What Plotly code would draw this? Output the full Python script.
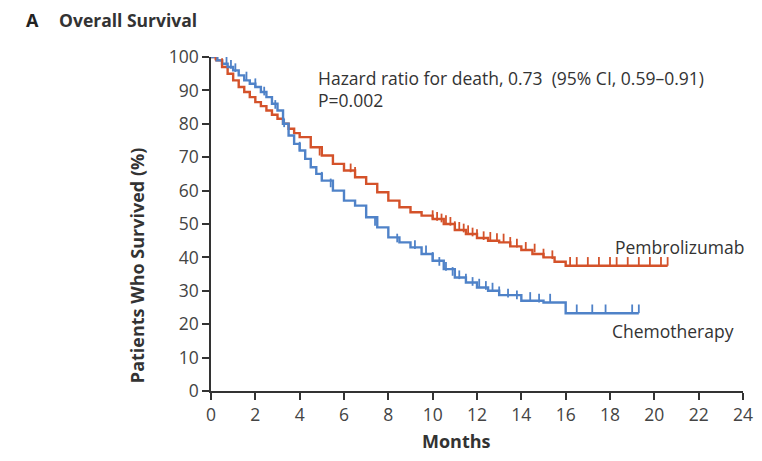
import plotly.graph_objects as go

# Kaplan-Meier step data (months, % surviving)
pem_t = [0, 0.25, 0.5, 0.75, 1.0, 1.25, 1.5, 1.75, 2.0, 2.25, 2.5, 2.75, 3.0, 3.25, 3.5, 3.75, 4.0, 4.5, 5.0,
         5.5, 6.0, 6.5, 7.0, 7.5, 8.0, 8.5, 9.0, 9.5, 10.0, 10.5, 11.0, 11.5, 12.0, 12.5, 13.0, 13.5, 14.0,
         14.5, 15.0, 15.5, 16.0, 20.6]
pem_s = [100, 99, 97, 95, 93, 91, 89.5, 88, 86.5, 85.3, 84, 82.7, 81.5, 80, 78.5, 77.2, 76, 73, 70.5,
         68, 66, 64, 62, 59.5, 57, 55, 53.5, 52.5, 51.5, 50, 48.2, 47, 45.8, 45, 44.5, 43.3, 42.2,
         41, 40, 38.7, 37.5, 37.5]
chemo_t = [0, 0.25, 0.5, 0.75, 1.0, 1.25, 1.5, 1.75, 2.0, 2.25, 2.5, 2.75, 3.0, 3.25, 3.5, 3.75, 4.0, 4.25,
           4.5, 4.75, 5.0, 5.5, 6.0, 6.5, 7.0, 7.5, 8.0, 8.5, 9.0, 9.5, 10.0, 10.5, 11.0, 11.5, 12.0, 12.5,
           13.0, 14.0, 15.0, 16.0, 19.3]
chemo_s = [100, 99, 98, 97, 96, 94.5, 93, 92, 91, 89.5, 88, 86, 84, 80, 76.5, 74, 72, 69.5,
           67, 65, 63, 60, 57, 55.5, 52, 49, 46, 44.5, 43, 41, 39, 36.5, 34, 32.5, 31, 30,
           28.7, 27, 26.5, 23.3, 23.3]

# censoring marks (months, % at that time)
pem_cens_t = [0.2, 0.5, 4.9, 5.0, 6.3, 6.5, 10.0, 10.2, 10.4, 10.6, 10.8, 11.0, 11.2, 11.4, 11.6, 11.8, 12.0,
              12.3, 12.6, 12.9, 13.2, 13.5, 13.8, 14.2, 14.6, 15.0, 15.4, 16.2, 16.5, 17.0, 17.5, 18.0,
              18.3, 18.8, 19.3, 19.8, 20.3, 20.6]
pem_cens_s = [99, 97, 70.5, 70.5, 65.5, 64.5, 51.5, 51, 50.5, 50, 49.5, 48.2, 48, 47.5, 47, 46.3, 45.8,
              45.2, 45, 44.6, 44.5, 43.5, 43, 42, 41.5, 40, 39.5, 37.5, 37.5, 37.5, 37.5, 37.5,
              37.5, 37.5, 37.5, 37.5, 37.5, 37.5]
chemo_cens_t = [0.1, 0.3, 0.7, 0.9, 1.1, 1.6, 2.0, 2.4, 2.9, 3.3, 4.0, 5.0, 5.4, 6.0, 7.4, 8.4, 9.2, 9.7,
                10.0, 10.3, 10.6, 10.9, 11.2, 11.5, 11.8, 12.1, 12.4, 12.7, 13.0, 13.4, 13.8, 14.4,
                14.8, 15.3, 16.5, 17.2, 17.8, 19.0, 19.3]
chemo_cens_s = [100, 99, 97.5, 96.5, 95.5, 93, 91, 88.5, 84.5, 79, 72, 63, 61, 57, 49.5, 44.5, 42.5, 41,
                39, 37.5, 36, 34.5, 33.5, 32.5, 31.5, 31, 30.3, 29.8, 28.7, 28, 27.5, 27,
                26.5, 26.5, 23.3, 23.3, 23.3, 23.3, 23.3]

x_ticks = list(range(0, 25, 2))
y_ticks = list(range(0, 101, 10))

RED = "#d4522a"
BLUE = "#4f82c8"
AXIS = "#333333"
TEXT = "#333333"
FONT = "Open Sans"

fig = go.Figure()
fig.add_trace(go.Scatter(x=pem_t, y=pem_s, mode="lines", line=dict(color=RED, width=2.4, shape="hv"),
                         cliponaxis=False, showlegend=False))
fig.add_trace(go.Scatter(x=chemo_t, y=chemo_s, mode="lines", line=dict(color=BLUE, width=2.4, shape="hv"),
                         cliponaxis=False, showlegend=False))
for t, s, c in [(pem_cens_t, pem_cens_s, RED), (chemo_cens_t, chemo_cens_s, BLUE)]:
    fig.add_trace(go.Scatter(
        x=t, y=s, mode="markers", marker=dict(size=1, color=c, opacity=0),
        error_y=dict(type="constant", symmetric=False, value=2.6, valueminus=0, width=0,
                     color=c, thickness=1.8),
        cliponaxis=False, showlegend=False, hoverinfo="skip"))

fig.update_layout(
    width=762, height=461,
    margin=dict(l=203, r=27, t=49, b=78),
    paper_bgcolor="white", plot_bgcolor="white",
    font=dict(family=FONT, color=TEXT, size=16),
    xaxis=dict(range=[0, 24], tickvals=x_ticks, ticks="outside", ticklen=7, tickwidth=1.5,
               tickcolor=AXIS, showline=True, linecolor=AXIS, linewidth=1.6, showgrid=False,
               zeroline=False, tickfont=dict(size=17.5, color="#444444")),
    yaxis=dict(range=[0, 100], tickvals=y_ticks, ticks="outside", ticklen=7, tickwidth=1.5,
               tickcolor=AXIS, showline=True, linecolor=AXIS, linewidth=1.6, showgrid=False,
               zeroline=False, tickfont=dict(size=17.5, color="#444444")),
    annotations=[
        dict(text="<b>A</b>", xref="paper", yref="paper", x=-0.351, y=1.111, xanchor="left",
             yanchor="middle", showarrow=False, font=dict(size=18, color="#222222")),
        dict(text="<b>Overall Survival</b>", xref="paper", yref="paper", x=-0.289, y=1.111,
             xanchor="left", yanchor="middle", showarrow=False, font=dict(size=17.5, color=TEXT)),
        dict(text="<b>Months</b>", xref="paper", yref="paper", x=0.462, y=-0.15,
             xanchor="center", yanchor="middle", showarrow=False, font=dict(size=18, color=TEXT)),
        dict(text="<b>Patients Who Survived (%)</b>", xref="paper", yref="paper", x=-0.139, y=0.374,
             xanchor="center", yanchor="middle", textangle=-90, showarrow=False,
             font=dict(size=18, color=TEXT)),
        dict(text="Hazard ratio for death, 0.73  (95% CI, 0.59–0.91)", xref="x", yref="y",
             x=4.74, y=93.7, xanchor="left", yanchor="middle", showarrow=False,
             font=dict(size=17.5, color=TEXT)),
        dict(text="P=0.002", xref="x", yref="y",
             x=4.74, y=87.1, xanchor="left", yanchor="middle", showarrow=False,
             font=dict(size=17.5, color=TEXT)),
        dict(text="Pembrolizumab", xref="x", yref="y", x=18.13, y=43.1, xanchor="left",
             yanchor="middle", showarrow=False, font=dict(size=17.5, color=TEXT)),
        dict(text="Chemotherapy", xref="x", yref="y", x=18.0, y=18.0, xanchor="left",
             yanchor="middle", showarrow=False, font=dict(size=17.5, color=TEXT)),
    ],
)

fig.write_html("out.html")
